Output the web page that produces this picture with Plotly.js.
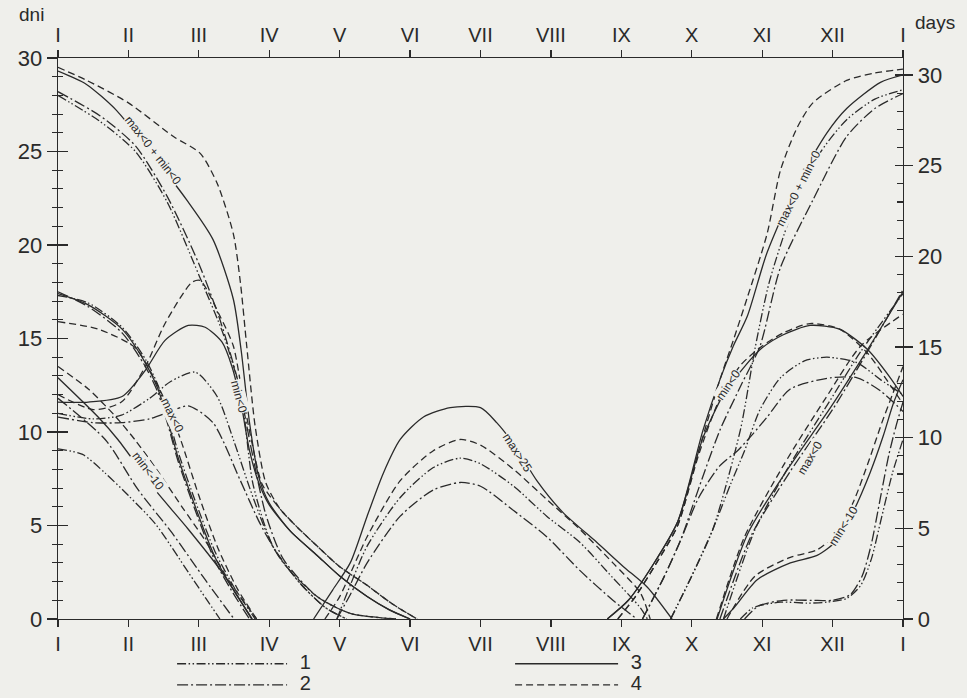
<!DOCTYPE html>
<html>
<head>
<meta charset="utf-8">
<script src="https://cdn.plot.ly/plotly-3.0.1.min.js"></script>
<style>
  html, body { margin: 0; padding: 0; background: #efefeb; }
  #chart { width: 967px; height: 698px; }
</style>
</head>
<body>
<div id="chart"></div>
<script>
// ---------- axis ticks ----------
const monthTicks = [0,1,2,3,4,5,6,7,8,9,10,11,12];
const monthLabels = ['I','II','III','IV','V','VI','VII','VIII','IX','X','XI','XII','I'];
const dayTicks = [0,5,10,15,20,25,30];
const legendNames = ['1','2','3','4'];

// ---------- "max<0 + min<0" (sum) : spring and autumn ----------
const sum1SpringX = [0,0.6,1.1,1.55,2.0,2.35,2.6,2.77,3.05,3.44,3.8,4.1];
const sum1SpringY = [28.0,26.6,25.0,22.3,18.4,15.2,12.0,7.2,3.9,1.9,0.6,0];
const sum2SpringX = [0,0.6,1.1,1.55,2.0,2.3,2.55,2.75,2.95,3.2,3.68,4.15,4.8];
const sum2SpringY = [28.2,26.9,25.3,22.6,19.0,16.0,12.8,9.0,5.6,3.2,1.2,0.3,0];
const sum3SpringX = [0,0.4,0.83,1.3,1.83,2.2,2.49,2.6,2.72,2.85,3.0,3.3,3.68,4.0,4.39,4.7,5.0];
const sum3SpringY = [29.3,28.6,27.2,25.0,22.4,20.3,17.1,14.4,10.5,7.6,6.2,4.7,3.4,2.3,1.2,0.5,0];
const sum4SpringX = [0,0.41,1.0,1.64,2.02,2.26,2.49,2.59,2.68,2.8,2.95,3.15,3.4,3.68,4.0,4.39,4.75,5.1];
const sum4SpringY = [29.5,28.8,27.6,25.8,24.9,23.3,20.6,18.0,14.6,10.3,7.3,5.9,4.9,3.9,2.8,1.8,0.8,0];

const sum1AutumnX = [8.7,9.0,9.3,9.69,9.9,10.1,10.4,10.8,11.2,11.6,12];
const sum1AutumnY = [0,2.3,4.8,10.1,14.5,18.0,21.5,24.8,26.7,27.8,28.3];
const sum2AutumnX = [8.3,8.6,8.84,9.1,9.4,9.7,9.97,10.26,10.72,11.2,11.6,12];
const sum2AutumnY = [0,2.2,4.2,7.0,10.1,12.5,14.6,18.8,22.4,25.8,27.3,28.1];
const sum3AutumnX = [7.8,8.1,8.45,8.8,9.16,9.4,9.59,9.79,10.07,10.5,10.92,11.2,11.68,12];
const sum3AutumnY = [0,1.0,2.9,5.2,10.1,12.8,14.6,16.2,19.6,23.3,26.0,27.3,28.7,29.1];
const sum4AutumnX = [7.95,8.2,8.5,8.8,9.1,9.4,9.59,9.79,10.07,10.26,10.5,10.72,11.2,11.6,12];
const sum4AutumnY = [0,1.2,3.0,5.0,9.0,12.8,14.9,17.2,20.6,24.0,26.3,27.6,28.8,29.2,29.4];

// ---------- "min<0" : spring and autumn ----------
const frost1SpringX = [0,0.5,0.9,1.3,1.6,1.95,2.26,2.49,2.77,3.05,3.44,3.8,4.1];
const frost1SpringY = [11.0,10.7,10.9,11.8,12.7,13.2,11.9,9.6,6.5,3.9,1.9,0.6,0];
const frost2SpringX = [0,0.5,0.9,1.3,1.6,1.85,2.2,2.59,2.87,3.2,3.68,4.15,4.8];
const frost2SpringY = [10.8,10.5,10.5,10.7,11.1,11.4,10.5,7.4,5.1,3.0,1.2,0.3,0];
const frost3SpringX = [0,0.43,0.91,1.24,1.52,1.85,2.09,2.33,2.47,2.6,2.72,2.85,3.0,3.3,3.68,4.0,4.39,4.7,5.0];
const frost3SpringY = [11.6,11.6,11.9,13.3,14.9,15.7,15.6,14.8,13.5,11.5,9.0,7.3,6.1,4.7,3.4,2.3,1.2,0.5,0];
const frost4SpringX = [0,0.5,0.9,1.24,1.52,1.9,2.02,2.3,2.49,2.62,2.75,2.9,3.15,3.4,3.68,4.0,4.39,4.75,5.1];
const frost4SpringY = [12.0,11.2,11.6,13.5,15.8,18.0,18.1,16.2,14.6,12.0,9.5,7.2,5.9,4.9,3.9,2.8,1.8,0.8,0];

const frost1AutumnX = [8.7,9.0,9.3,9.55,9.75,9.97,10.26,10.6,10.92,11.35,11.68,12];
const frost1AutumnY = [0,2.3,4.8,7.2,9.0,11.2,12.9,13.8,14.0,13.7,12.8,12.0];
const frost2AutumnX = [8.3,8.6,8.84,9.1,9.4,9.65,9.87,10.07,10.4,10.97,11.35,11.68,12];
const frost2AutumnY = [0,2.2,4.2,6.5,8.2,9.0,9.9,10.8,12.3,12.9,12.9,12.2,11.1];
const frost3AutumnX = [7.8,8.1,8.45,8.8,9.16,9.45,9.75,10.0,10.3,10.68,11.1,11.5,11.82,12];
const frost3AutumnY = [0,1.0,2.9,5.2,9.7,12.0,13.5,14.5,15.2,15.7,15.5,14.4,12.9,11.9];
const frost4AutumnX = [7.95,8.2,8.5,8.8,9.1,9.4,9.7,10.0,10.3,10.68,11.1,11.5,11.82,12];
const frost4AutumnY = [0,1.2,3.0,5.0,8.8,11.8,13.6,14.6,15.3,15.8,15.5,14.2,12.5,11.5];

// ---------- "max<0" : spring and autumn ----------
const ice1SpringX = [0,0.43,0.91,1.24,1.42,1.56,1.7,1.95,2.23,2.5,2.8];
const ice1SpringY = [17.3,16.9,15.6,13.9,12.5,10.9,9.0,6.3,3.6,1.7,0];
const ice2SpringX = [0,0.43,0.91,1.24,1.42,1.56,1.7,1.95,2.23,2.5,2.72];
const ice2SpringY = [17.5,16.7,15.3,13.5,12.1,10.4,8.5,5.8,3.1,1.3,0];
const ice3SpringX = [0,0.43,0.91,1.24,1.42,1.56,1.7,1.95,2.23,2.5,2.76];
const ice3SpringY = [17.4,16.8,15.5,13.7,12.3,10.6,8.7,6.0,3.3,1.5,0];
const ice4SpringX = [0,0.57,1.1,1.4,1.6,1.75,2.0,2.27,2.55,2.82];
const ice4SpringY = [15.9,15.5,14.5,12.6,11.0,9.5,6.6,3.8,1.6,0];

const ice1AutumnX = [9.45,9.9,10.4,10.95,11.4,12];
const ice1AutumnY = [0,4.8,8.3,11.6,14.3,17.4];
const ice2AutumnX = [9.4,9.85,10.4,11.0,11.45,12];
const ice2AutumnY = [0,4.5,7.9,11.2,14.0,17.6];
const ice3AutumnX = [9.36,9.8,10.36,10.97,11.43,12];
const ice3AutumnY = [0,4.6,8.0,11.3,14.0,17.5];
const ice4AutumnX = [9.35,9.75,10.3,10.9,11.4,12];
const ice4AutumnY = [0,4.4,8.2,11.8,14.6,16.3];

// ---------- "min<-10" : spring and autumn ----------
const cold1SpringX = [0,0.35,0.67,1.0,1.38,1.85,2.1,2.3];
const cold1SpringY = [9.1,8.8,7.8,6.6,5.1,2.5,1.1,0];
const cold2SpringX = [0,0.67,1.14,1.62,2.09,2.5];
const cold2SpringY = [11.8,9.6,6.9,4.6,2.1,0];
const cold3SpringX = [0,0.57,0.85,1.38,1.85,2.33,2.75];
const cold3SpringY = [12.9,10.8,9.6,6.9,4.8,2.5,0];
const cold4SpringX = [0,0.43,0.8,1.09,1.4,1.76,2.09,2.42,2.82];
const cold4SpringY = [13.5,12.3,10.9,9.6,8.0,6.0,4.2,2.1,0];

const cold1AutumnX = [9.69,9.87,10.26,10.64,10.92,11.2,11.4,11.55,11.7,11.85,12];
const cold1AutumnY = [0,0.6,0.9,0.85,0.9,1.1,1.8,3.2,5.5,7.8,9.6];
const cold2AutumnX = [9.75,9.95,10.3,10.7,11.0,11.25,11.42,11.55,11.68,11.8,11.9,12];
const cold2AutumnY = [0,0.7,1.0,1.0,1.0,1.3,2.3,4.0,6.5,8.8,10.3,11.6];
const cold3AutumnX = [9.45,9.6,9.93,10.4,10.78,11.06,11.3,11.53,11.72,11.86,12];
const cold3AutumnY = [0,0.6,2.1,3.0,3.4,4.2,5.8,7.8,9.8,11.5,12.8];
const cold4AutumnX = [9.5,9.9,10.4,10.78,11.06,11.3,11.5,11.7,11.85,12];
const cold4AutumnY = [0,2.3,3.3,3.7,4.6,6.3,8.3,10.5,12.0,13.5];

// ---------- "max>25" : summer ----------
const hot1X = [3.96,4.15,4.39,4.86,5.33,5.71,6.0,6.47,6.94,7.41,7.88,8.27,8.37];
const hot1Y = [0,1.8,3.9,6.5,8.1,8.6,8.3,7.1,5.5,4.1,2.2,0.6,0];
const hot2X = [3.96,4.15,4.39,4.86,5.33,5.71,6.0,6.47,6.94,7.41,7.88,8.22];
const hot2Y = [0,1.3,3.0,5.5,6.9,7.3,7.1,5.8,4.4,2.6,1.0,0];
const hot3X = [3.63,3.9,4.15,4.39,4.62,4.86,5.19,5.57,6.0,6.23,6.5,6.8,7.17,7.65,8.03,8.37,8.72];
const hot3Y = [0,1.55,3.0,5.5,7.8,9.6,10.8,11.3,11.3,10.5,9.2,7.4,5.7,4.1,2.8,1.7,0];
const hot4X = [3.79,4.0,4.39,4.86,5.33,5.71,6.0,6.47,6.94,7.41,7.88,8.27,8.41];
const hot4Y = [0,1.2,4.4,7.4,9.0,9.6,9.3,8.0,6.4,4.8,3.0,1.4,0];

// ---------- curve labels ----------
const labelTexts = ['max<0 + min<0','max<0','min<0','min<-10','max>25'];

// ---------- styling ----------
const INK = '#2a2a2a';
const BG = '#efefeb';
const dashFor = {
  1: '9px,2.5px,1.5px,2.5px,1.5px,2.5px',
  2: '11px,3px,2px,3px',
  3: 'solid',
  4: '7px,4px'
};
const FONT = 'Liberation Sans, Arial, sans-serif';
const NBSP = '\u00a0';

// [x, y, style, xaxis, yaxis]
const curves = [
  [sum1SpringX,sum1SpringY,1],[sum2SpringX,sum2SpringY,2],[sum3SpringX,sum3SpringY,3],[sum4SpringX,sum4SpringY,4],
  [sum1AutumnX,sum1AutumnY,1],[sum2AutumnX,sum2AutumnY,2],[sum3AutumnX,sum3AutumnY,3],[sum4AutumnX,sum4AutumnY,4],
  [frost1SpringX,frost1SpringY,1],[frost2SpringX,frost2SpringY,2],[frost3SpringX,frost3SpringY,3],[frost4SpringX,frost4SpringY,4],
  [frost1AutumnX,frost1AutumnY,1],[frost2AutumnX,frost2AutumnY,2],[frost3AutumnX,frost3AutumnY,3],[frost4AutumnX,frost4AutumnY,4],
  [ice1SpringX,ice1SpringY,1],[ice2SpringX,ice2SpringY,2],[ice3SpringX,ice3SpringY,3],[ice4SpringX,ice4SpringY,4],
  [ice1AutumnX,ice1AutumnY,1],[ice2AutumnX,ice2AutumnY,2],[ice3AutumnX,ice3AutumnY,3],[ice4AutumnX,ice4AutumnY,4],
  [cold1SpringX,cold1SpringY,1,'x','y3'],[cold2SpringX,cold2SpringY,2,'x','y3'],[cold3SpringX,cold3SpringY,3,'x','y3'],[cold4SpringX,cold4SpringY,4,'x','y3'],
  [cold1AutumnX,cold1AutumnY,1,'x','y3'],[cold2AutumnX,cold2AutumnY,2,'x','y3'],[cold3AutumnX,cold3AutumnY,3,'x','y3'],[cold4AutumnX,cold4AutumnY,4,'x','y3'],
  [hot1X,hot1Y,1,'x2','y'],[hot2X,hot2Y,2,'x2','y'],[hot3X,hot3Y,3,'x2','y'],[hot4X,hot4Y,4,'x2','y']
];

const seen = {};
const traces = curves.map(([xs, ys, style, xa, ya]) => {
  const first = !seen[style];
  seen[style] = true;
  return {
    type: 'scatter', mode: 'lines', x: xs, y: ys,
    xaxis: xa || 'x', yaxis: ya || 'y',
    line: { color: INK, width: 1.3, dash: dashFor[style], shape: 'spline', smoothing: 0.7 },
    name: NBSP + NBSP + '<span style="font-size:20px">' + legendNames[style - 1] + '</span>',
    showlegend: first,
    legend: style <= 2 ? 'legend' : 'legend2',
    hoverinfo: 'skip'
  };
});
// empty carriers so the right-hand "days" axis (own scale) is drawn
['y2','y4'].forEach(ax => traces.push({
  type: 'scatter', mode: 'lines', x: [null], y: [null], xaxis: 'x', yaxis: ax,
  showlegend: false, hoverinfo: 'skip'
}));

function lab(text, x, y, angle) {
  return { text, x, y, xref: 'x', yref: 'y', showarrow: false, textangle: angle,
           font: { family: FONT, size: 12, color: INK }, bgcolor: BG, borderpad: 0 };
}

const annotations = [
  lab(labelTexts[0], 1.35, 25.1, 52),
  lab(labelTexts[1], 1.62, 10.9, 64),
  lab(labelTexts[2], 2.56, 11.9, 75),
  lab(labelTexts[3], 1.28, 7.9, 53),
  lab(labelTexts[4], 6.53, 8.9, 57),
  lab(labelTexts[0], 10.51, 23.0, -63),
  lab(labelTexts[2], 9.52, 12.5, -56),
  lab(labelTexts[1], 10.68, 8.6, -59),
  lab(labelTexts[3], 11.15, 5.0, -58),
  { text: 'dni', xref: 'paper', yref: 'paper', x: -0.031, y: 1.077, xanchor: 'center', yanchor: 'middle',
    showarrow: false, font: { family: FONT, size: 19, color: INK } },
  { text: 'days', xref: 'paper', yref: 'paper', x: 1.038, y: 1.064, xanchor: 'center', yanchor: 'middle',
    showarrow: false, font: { family: FONT, size: 19, color: INK } }
];

const numFont = { family: FONT, size: 22, color: INK };
const romanFont = { family: FONT, size: 20, color: INK };
const rightRangeTop = 30.94;

const layout = {
  width: 967, height: 698,
  margin: { l: 58, r: 64, t: 58, b: 79, autoexpand: false },
  paper_bgcolor: BG, plot_bgcolor: BG,
  font: { family: FONT, color: INK },
  showlegend: true,
  xaxis: {
    range: [0, 12], tickvals: monthTicks, ticktext: monthLabels,
    showline: true, linecolor: INK, linewidth: 1.3, zeroline: false, showgrid: false,
    ticks: 'outside', ticklen: 7, tickwidth: 1.3, tickcolor: INK, tickfont: romanFont
  },
  xaxis2: {
    range: [0, 12], overlaying: 'x', side: 'top', anchor: 'y', tickvals: monthTicks, ticktext: monthLabels,
    showline: true, linecolor: INK, linewidth: 1.3, zeroline: false, showgrid: false,
    ticks: 'outside', ticklen: 7, tickwidth: 1.3, tickcolor: INK, tickfont: romanFont
  },
  yaxis: {
    range: [0, 30], tickvals: dayTicks,
    showline: true, linecolor: INK, linewidth: 1.3, zeroline: false, showgrid: false,
    ticks: 'outside', ticklen: 10, tickwidth: 1.3, tickcolor: INK, tickfont: numFont,
    minor: { dtick: 1, ticks: 'outside', ticklen: 5, tickwidth: 1.1, tickcolor: INK, showgrid: false }
  },
  yaxis3: {
    range: [0, 30], overlaying: 'y', side: 'left', anchor: 'x', tickvals: dayTicks, showticklabels: false,
    showline: false, zeroline: false, showgrid: false,
    ticks: 'inside', ticklen: 10, tickwidth: 1.3, tickcolor: INK,
    minor: { dtick: 1, ticks: 'inside', ticklen: 5, tickwidth: 1.1, tickcolor: INK, showgrid: false }
  },
  yaxis2: {
    range: [0, rightRangeTop], overlaying: 'y', side: 'right', anchor: 'x', tickvals: dayTicks,
    showline: true, linecolor: INK, linewidth: 1.3, zeroline: false, showgrid: false,
    ticks: 'outside', ticklen: 9, tickwidth: 1.3, tickcolor: INK, tickfont: numFont
  },
  yaxis4: {
    range: [0, rightRangeTop], overlaying: 'y', side: 'right', anchor: 'x', tickvals: dayTicks, showticklabels: false,
    showline: false, zeroline: false, showgrid: false,
    ticks: 'inside', ticklen: 8, tickwidth: 1.3, tickcolor: INK,
    minor: { dtick: 1, ticks: 'inside', ticklen: 6, tickwidth: 1.1, tickcolor: INK, showgrid: false }
  },
  legend: {
    x: 0.135, y: -0.052, xanchor: 'left', yanchor: 'top', orientation: 'v',
    itemwidth: 110, font: { family: FONT, size: 14, color: INK }, bgcolor: 'rgba(0,0,0,0)',
    tracegroupgap: 0, traceorder: 'normal'
  },
  legend2: {
    x: 0.535, y: -0.052, xanchor: 'left', yanchor: 'top', orientation: 'v',
    itemwidth: 103, font: { family: FONT, size: 14, color: INK }, bgcolor: 'rgba(0,0,0,0)',
    tracegroupgap: 0, traceorder: 'normal'
  },
  annotations: annotations
};

Plotly.newPlot('chart', traces, layout, { staticPlot: true, displayModeBar: false });
</script>
</body>
</html>
